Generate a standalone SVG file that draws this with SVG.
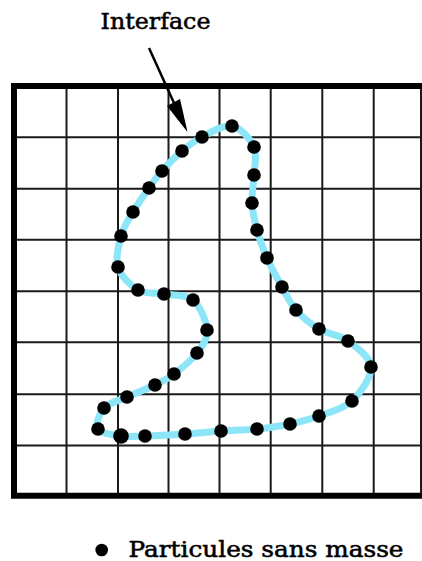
<svg xmlns="http://www.w3.org/2000/svg" width="422" height="561" viewBox="0 0 422 561">
<style>
.grid{stroke:#1a1a1a;stroke-width:2;fill:none}
.frame{stroke:#000;stroke-width:6;fill:none}
.iface{stroke:#8de6f8;stroke-width:7;fill:none;stroke-linejoin:round}
.p{fill:#000}
.lbl{font-family:"DejaVu Serif","Liberation Serif",serif;font-size:22.5px;fill:#000;stroke:#000;stroke-width:0.55}
</style>
<rect width="422" height="561" fill="#fff"/>
<g id="grid">
<path class="grid" d="M66.5,86V496M118,86V496M168.5,86V496M219.5,86V496M270.7,86V496M322.3,86V496M373.7,86V496M421,86V496M14,137.3H422M14,188.8H422M14,239.7H422M14,291.3H422M14,342.3H422M14,394.3H422M14,445.5H422"/>
<path class="frame" d="M422,86H14V495.7H422"/>
</g>
<g id="interface-curve">
<path class="iface" d="M232,126C240.7,127.7 250.3,138.8 254,147C257.7,155.2 254.3,165.7 254,175C253.7,184.3 251.5,193.8 252,203C252.5,212.2 254.5,220.8 257,230C259.5,239.2 262.8,248.5 267,258C271.2,267.5 277.2,278.3 282,287C286.8,295.7 289.8,303 296,310C302.2,317 310.3,323.8 319,329C327.7,334.2 339.3,334.7 348,341C356.7,347.3 370.3,357 371,367C371.7,377 360.7,392.8 352,401C343.3,409.2 329.3,412.2 319,416C308.7,419.8 300.3,421.8 290,424C279.7,426.2 268.5,427.8 257,429C245.5,430.2 233,430.2 221,431C209,431.8 197.7,433.2 185,434C172.3,434.8 155.7,435.7 145,436C134.3,436.3 128.8,437.2 121,436C113.2,434.8 100.8,433.7 98,429C95.2,424.3 99.2,413.3 104,408C108.8,402.7 118.5,400.8 127,397C135.5,393.2 147.2,388.8 155,385C162.8,381.2 167,379.3 174,374C181,368.7 191.5,360.3 197,353C202.5,345.7 207.7,338.8 207,330C206.3,321.2 200.2,306 193,300C185.8,294 173.2,295.7 164,294C154.8,292.3 145.7,294.5 138,290C130.3,285.5 120.8,276 118,267C115.2,258 118.5,245.2 121,236C123.5,226.8 128.3,220 133,212C137.7,204 144.2,194.8 149,188C153.8,181.2 156.5,177.2 162,171C167.5,164.8 175.3,156.7 182,151C188.7,145.3 193.7,141.2 202,137C210.3,132.8 223.3,124.3 232,126Z"/>
</g>
<g id="particles" class="p">
<circle cx="232" cy="126" r="6.8"/><circle cx="254" cy="147" r="6.8"/><circle cx="254" cy="175" r="6.8"/><circle cx="252" cy="203" r="6.8"/>
<circle cx="257" cy="230" r="6.8"/><circle cx="267" cy="258" r="6.8"/><circle cx="282" cy="287" r="6.8"/><circle cx="296" cy="310" r="6.8"/>
<circle cx="319" cy="329" r="6.8"/><circle cx="348" cy="341" r="6.8"/><circle cx="371" cy="367" r="6.8"/><circle cx="352" cy="401" r="6.8"/>
<circle cx="319" cy="416" r="6.8"/><circle cx="290" cy="424" r="6.8"/><circle cx="257" cy="429" r="6.8"/><circle cx="221" cy="431" r="6.8"/>
<circle cx="185" cy="434" r="6.8"/><circle cx="145" cy="436" r="6.8"/><circle cx="121" cy="436" r="7.8"/><circle cx="98" cy="429" r="6.8"/>
<circle cx="104" cy="408" r="6.8"/><circle cx="127" cy="397" r="6.8"/><circle cx="155" cy="385" r="6.8"/><circle cx="174" cy="374" r="6.8"/>
<circle cx="197" cy="353" r="6.8"/><circle cx="207" cy="330" r="6.8"/><circle cx="193" cy="300" r="6.8"/><circle cx="164" cy="294" r="6.8"/>
<circle cx="138" cy="290" r="6.8"/><circle cx="118" cy="267" r="6.8"/><circle cx="121" cy="236" r="6.8"/><circle cx="133" cy="212" r="6.8"/>
<circle cx="149" cy="188" r="6.8"/><circle cx="162" cy="171" r="6.8"/><circle cx="182" cy="151" r="6.8"/><circle cx="202" cy="137" r="6.8"/>
</g>
<g id="label-interface">
<text class="lbl" x="100.5" y="29" textLength="110" lengthAdjust="spacingAndGlyphs">Interface</text>
</g>
<g id="connectors">
<line x1="149" y1="48" x2="174" y2="103" stroke="#000" stroke-width="2.5"/>
<polygon points="167,106 180,99 187.5,132" fill="#000"/>
</g>
<g id="legend">
<circle cx="101.7" cy="550" r="6.3" fill="#000"/>
<text class="lbl" x="128.5" y="557" textLength="275" lengthAdjust="spacingAndGlyphs">Particules sans masse</text>
</g>
</svg>
